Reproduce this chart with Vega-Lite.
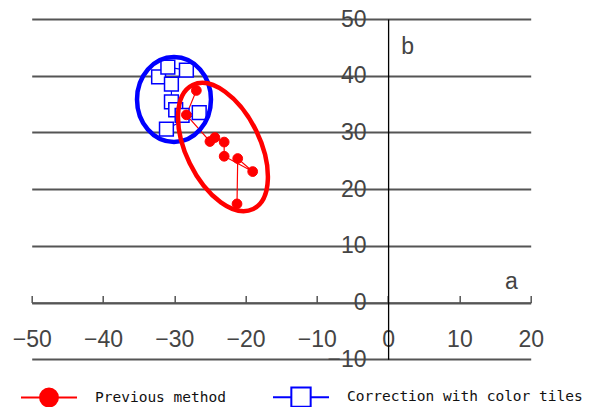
{
  "$schema": "https://vega.github.io/schema/vega-lite/v6.json",
  "width": 499,
  "height": 340.3,
  "autosize": {"type": "none"},
  "padding": {"left": 31.7, "top": 19, "right": 60.3, "bottom": 47.7},
  "background": "white",
  "config": {
    "view": {"stroke": null},
    "font": "Liberation Sans",
    "legend": {
      "orient": "none", "legendX": -11.7, "legendY": 349, "direction": "horizontal",
      "symbolSize": 3136, "symbolStrokeWidth": 2, "symbolOpacity": 1,
      "symbolFillColor": "#ffffff", "symbolStrokeColor": "#000000",
      "labelFont": "DejaVu Sans Mono", "labelFontSize": 14.5, "labelColor": "#111111",
      "labelOffset": 17, "columnPadding": 43, "labelBaseline": "middle", "labelLimit": 400
    }
  },
  "datasets": {
    "pts": [
      {"a": -32.2, "b": 39.8, "method": "Correction with color tiles", "ord": 1},
      {"a": -30.9, "b": 41.5, "method": "Correction with color tiles", "ord": 2},
      {"a": -28.3, "b": 41.0, "method": "Correction with color tiles", "ord": 3},
      {"a": -30.4, "b": 38.5, "method": "Correction with color tiles", "ord": 4},
      {"a": -30.4, "b": 35.4, "method": "Correction with color tiles", "ord": 5},
      {"a": -29.8, "b": 34.0, "method": "Correction with color tiles", "ord": 6},
      {"a": -28.9, "b": 33.0, "method": "Correction with color tiles", "ord": 7},
      {"a": -26.5, "b": 33.5, "method": "Correction with color tiles", "ord": 8},
      {"a": -31.1, "b": 30.6, "method": "Correction with color tiles", "ord": 9},
      {"a": -26.9, "b": 37.4, "method": "Previous method", "ord": 1},
      {"a": -28.3, "b": 33.1, "method": "Previous method", "ord": 2},
      {"a": -25.0, "b": 28.4, "method": "Previous method", "ord": 3},
      {"a": -24.3, "b": 29.1, "method": "Previous method", "ord": 4},
      {"a": -23.0, "b": 28.3, "method": "Previous method", "ord": 5},
      {"a": -23.0, "b": 25.8, "method": "Previous method", "ord": 6},
      {"a": -19.0, "b": 23.1, "method": "Previous method", "ord": 7},
      {"a": -21.1, "b": 25.4, "method": "Previous method", "ord": 8},
      {"a": -21.2, "b": 17.4, "method": "Previous method", "ord": 9}
    ],
    "ellipses": [
      {"a": -30.04, "b": 35.81, "group": "blue"},
      {"a": -23.17, "b": 27.43, "group": "red"}
    ]
  },
  "encoding": {
    "x": {
      "field": "a", "type": "quantitative",
      "scale": {"domain": [-50, 20], "nice": false, "zero": false},
      "axis": {
        "values": [-50, -40, -30, -20, -10, 0, 10, 20],
        "offset": -56.7,
        "grid": false,
        "domain": true, "domainColor": "#555555", "domainWidth": 1.8,
        "ticks": true, "tickSize": -7, "tickColor": "#555555", "tickWidth": 1.5,
        "labelPadding": 44, "labelFontSize": 23, "labelColor": "#444444", "labelFont": "Liberation Sans",
        "labelBaseline": "middle", "labelFlush": false, "labelOverlap": false, "labelBound": false,
        "title": "a", "titleX": 479.3, "titleY": -21, "titleAlign": "center", "titleBaseline": "middle",
        "titleFontSize": 23, "titleFontWeight": "normal", "titleColor": "#444444", "titleFont": "Liberation Sans"
      }
    },
    "y": {
      "field": "b", "type": "quantitative",
      "scale": {"domain": [-10, 50], "nice": false, "zero": false},
      "axis": {
        "values": [-10, 0, 10, 20, 30, 40, 50],
        "offset": -356.4,
        "grid": true, "gridColor": "#555555", "gridWidth": 1.8, "gridOpacity": 1,
        "domain": true, "domainColor": "#000000", "domainWidth": 1.3,
        "ticks": false, "tickSize": 0,
        "labelPadding": 22, "labelFontSize": 23, "labelColor": "#444444", "labelFont": "Liberation Sans",
        "labelBaseline": "middle", "labelFlush": false, "labelOverlap": false, "labelBound": false,
        "title": "b", "titleX": 19, "titleY": 27, "titleAngle": 0, "titleAlign": "center", "titleBaseline": "middle",
        "titleFontSize": 23, "titleFontWeight": "normal", "titleColor": "#444444", "titleFont": "Liberation Sans"
      }
    }
  },
  "layer": [
    {
      "data": {"name": "pts"},
      "mark": {"type": "line", "strokeWidth": 1.2},
      "encoding": {
        "detail": {"field": "method", "type": "nominal"},
        "stroke": {"condition": {"test": "datum.method === 'Previous method'", "value": "#ff0000"}, "value": "#0000ff"},
        "order": {"field": "ord", "type": "quantitative"}
      }
    },
    {
      "data": {"name": "pts"},
      "mark": {"type": "point", "filled": true, "opacity": 1},
      "encoding": {
        "shape": {"condition": {"test": "datum.method === 'Previous method'", "value": "circle"}, "value": "square"},
        "fill": {"condition": {"test": "datum.method === 'Previous method'", "value": "#ff0000"}, "value": "#ffffff"},
        "stroke": {"condition": {"test": "datum.method === 'Previous method'", "value": "#ff0000"}, "value": "#0000ff"},
        "size": {"condition": {"test": "datum.method === 'Previous method'", "value": 95}, "value": 190},
        "strokeWidth": {"condition": {"test": "datum.method === 'Previous method'", "value": 1}, "value": 1.5}
      }
    },
    {
      "data": {"name": "pts"},
      "mark": {"type": "point", "filled": true, "opacity": 0},
      "encoding": {
        "shape": {
          "field": "method", "type": "nominal",
          "scale": {
            "domain": ["Previous method", "Correction with color tiles"],
            "range": [
              "M-1,0L1,0M0,-0.32C0.177,-0.32,0.32,-0.177,0.32,0C0.32,0.177,0.177,0.32,0,0.32C-0.177,0.32,-0.32,0.177,-0.32,0C-0.32,-0.177,-0.177,-0.32,0,-0.32Z",
              "M-1,0L-0.345,0M0.345,0L1,0M-0.345,-0.345L0.345,-0.345L0.345,0.345L-0.345,0.345Z"
            ]
          },
          "legend": {"title": null}
        },
        "fill": {
          "field": "method", "type": "nominal",
          "scale": {"domain": ["Previous method", "Correction with color tiles"], "range": ["#ff0000", "#ffffff"]},
          "legend": {"title": null}
        },
        "stroke": {
          "field": "method", "type": "nominal",
          "scale": {"domain": ["Previous method", "Correction with color tiles"], "range": ["#ff0000", "#0000ff"]},
          "legend": {"title": null}
        }
      }
    },
    {
      "data": {"name": "ellipses"},
      "transform": [{"filter": "datum.group === 'blue'"}],
      "mark": {
        "type": "point", "filled": false, "opacity": 1, "stroke": "#0000ff", "strokeWidth": 4.5, "size": 7225,
        "shape": "M0,-1C0.48,-1,0.87,-0.552,0.87,0C0.87,0.552,0.48,1,0,1C-0.48,1,-0.87,0.552,-0.87,0C-0.87,-0.552,-0.48,-1,0,-1Z"
      }
    },
    {
      "data": {"name": "ellipses"},
      "transform": [{"filter": "datum.group === 'red'"}],
      "mark": {
        "type": "point", "filled": false, "opacity": 1, "stroke": "#ff0000", "strokeWidth": 4.5, "size": 19044, "angle": 334,
        "shape": "M0,-1C0.296,-1,0.536,-0.552,0.536,0C0.536,0.552,0.296,1,0,1C-0.296,1,-0.536,0.552,-0.536,0C-0.536,-0.552,-0.296,-1,0,-1Z"
      }
    }
  ]
}
